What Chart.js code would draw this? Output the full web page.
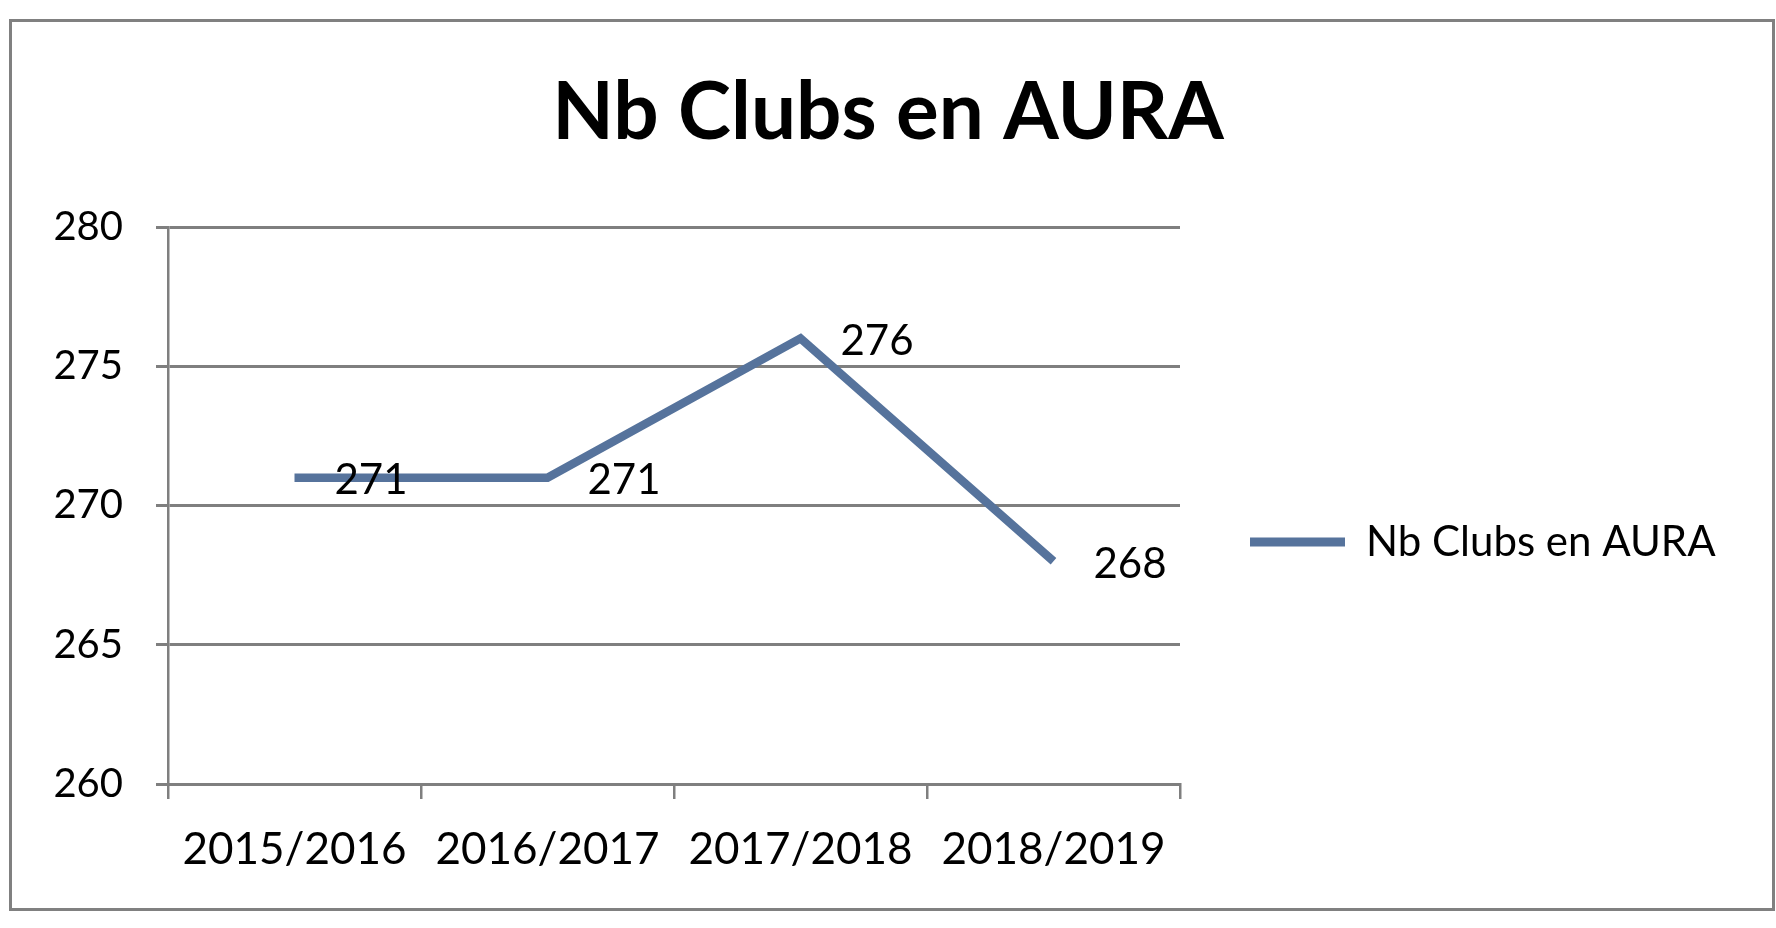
<!DOCTYPE html>
<html>
<head>
<meta charset="utf-8">
<title>Nb Clubs en AURA</title>
<script src="https://cdn.jsdelivr.net/npm/chart.js@4/dist/chart.umd.min.js"></script>
<style>
  html, body { margin: 0; padding: 0; background: #fff; overflow: hidden; }
  #wrap { position: relative; width: 1776px; height: 928px; }
  #frame { position: absolute; left: 9px; top: 19px; width: 1760px; height: 886px; border: 3px solid #808080; pointer-events: none; }
</style>
</head>
<body>
<div id="wrap">
  <canvas id="chart"></canvas>
  <div id="frame"></div>
</div>
<script>
const seasons = ['2015/2016', '2016/2017', '2017/2018', '2018/2019']
const clubs = [271, 271, 276, 268]
const yTicks = [260, 265, 270, 275, 280]

const lineColor = '#56739c'
const gridColor = '#7f7f7f'
const font = 'Lato'

// value labels to the right of each point
const valueLabels = {
	id: 'valueLabels',
	afterDatasetsDraw(chart) {
		const ctx = chart.ctx
		const meta = chart.getDatasetMeta(0)
		ctx.save()
		ctx.font = '42px ' + font
		ctx.fillStyle = '#000'
		ctx.textAlign = 'left'
		ctx.textBaseline = 'middle'
		meta.data.forEach((pt, i) => {
			ctx.fillText(String(clubs[i]), pt.x + 40, pt.y + 3)
		})
		ctx.restore()
	},
}

// legend sits to the right of the plot, fixed width, a bit below middle
const legendPlace = {
	id: 'legendPlace',
	afterInit(chart) {
		const lg = chart.legend
		const fit = lg.fit.bind(lg)
		lg.fit = () => {
			fit()
			lg.width = 596
		}
	},
	afterLayout(chart) {
		const lg = chart.legend
		const dy = 542 - (lg.top + lg.bottom) / 2
		lg.top += dy
		lg.bottom += dy
	},
}

const ctx = document.getElementById('chart').getContext('2d')

new Chart(ctx, {
	type: 'line',
	data: {
		labels: seasons,
		datasets: [
			{
				label: 'Nb Clubs en AURA',
				data: clubs,
				borderColor: lineColor,
				backgroundColor: lineColor,
				borderWidth: 8.5,
				borderJoinStyle: 'miter',
				pointRadius: 0,
				tension: 0,
			},
		],
	},
	options: {
		responsive: true,
		maintainAspectRatio: false,
		animation: false,
		layout: { padding: 0 },
		plugins: {
			title: {
				display: true,
				text: 'Nb Clubs en AURA',
				color: '#000',
				font: { family: font, size: 80, weight: 'bold', lineHeight: 1.2 },
				padding: { top: 65, bottom: 66 },
			},
			legend: {
				position: 'right',
				labels: {
					color: '#000',
					font: { family: font, size: 42 },
					boxWidth: 95,
					boxHeight: 9,
					padding: 70,
					generateLabels(chart) {
						return Chart.defaults.plugins.legend.labels
							.generateLabels(chart)
							.map((l) => ({ ...l, lineWidth: 0 }))
					},
				},
			},
			tooltip: { enabled: false },
		},
		scales: {
			x: {
				offset: true,
				grid: {
					offset: true,
					drawOnChartArea: false,
					drawTicks: true,
					tickLength: 15,
					color: gridColor,
					lineWidth: 2.5,
				},
				border: { display: true, color: gridColor, width: 3 },
				ticks: {
					color: '#000',
					font: { family: font, size: 44 },
					padding: 24,
					maxRotation: 0,
				},
				afterFit(scale) {
					scale.height = 144
				},
			},
			y: {
				min: yTicks[0],
				max: yTicks[yTicks.length - 1],
				afterBuildTicks(scale) {
					scale.ticks = yTicks.map((v) => ({ value: v }))
				},
				grid: {
					color: gridColor,
					lineWidth: 3,
					drawTicks: true,
					tickLength: 12,
				},
				border: { display: true, color: gridColor, width: 2.5 },
				ticks: {
					color: '#000',
					font: { family: font, size: 40 },
					padding: 33,
				},
				afterFit(scale) {
					scale.width = 168
				},
			},
		},
	},
	plugins: [valueLabels, legendPlace],
})
</script>
</body>
</html>
